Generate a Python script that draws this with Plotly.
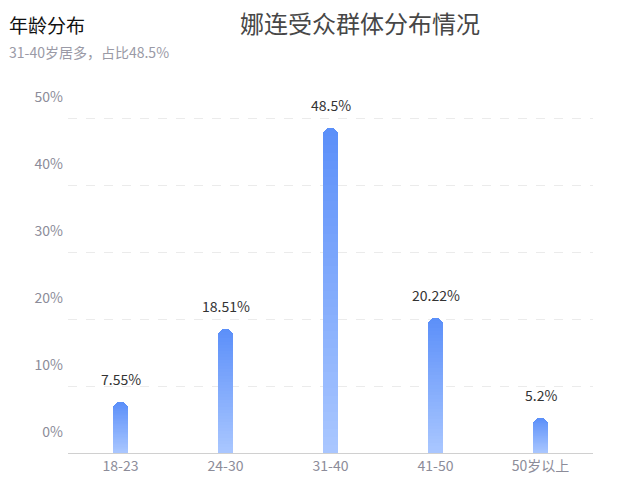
import plotly.graph_objects as go

# data
ages = ["18-23", "24-30", "31-40", "41-50", "50岁以上"]
shares = [7.55, 18.51, 48.5, 20.22, 5.2]
share_labels = ["7.55%", "18.51%", "48.5%", "20.22%", "5.2%"]
y_ticks = [0, 10, 20, 30, 40, 50]
y_tick_text = ["0%", "10%", "20%", "30%", "40%", "50%"]

FONT = "Noto Sans CJK SC"
TOP = (91, 143, 249)
BOTTOM = (170, 199, 255)
LAYERS = 40


def blend(t):
    # t = 0 at the foot of a bar, 1 at its top
    r, g, b = (round(BOTTOM[i] + (TOP[i] - BOTTOM[i]) * t) for i in range(3))
    return f"rgb({r},{g},{b})"


fig = go.Figure()

# overlaid bars, tallest first, each one a bit shorter and lighter,
# so every bar fades from blue at the top to pale at the foot
for k in range(LAYERS):
    frac = (LAYERS - k) / LAYERS
    fig.add_trace(go.Bar(
        x=ages,
        y=[v * frac for v in shares],
        width=0.143,
        marker=dict(color=blend(frac - 0.5 / LAYERS), line=dict(width=0),
                    cornerradius=8),
        hoverinfo="skip",
        showlegend=False,
    ))

for age, v, lab in zip(ages, shares, share_labels):
    fig.add_annotation(x=age, y=v, text=lab, showarrow=False,
                       yanchor="bottom", yshift=11,
                       font=dict(family=FONT, size=14, color="#333333"))

# titles, placed from the top-left corner of the page
fig.add_annotation(xref="paper", yref="paper", x=(360 - 68) / 525, y=1.0,
                   text="娜连受众群体分布情况", showarrow=False,
                   xanchor="center", yanchor="middle", yshift=95,
                   font=dict(family=FONT, size=24, color="#474747"))
fig.add_annotation(xref="paper", yref="paper", x=(7 - 68) / 525, y=1.0,
                   xanchor="left", yanchor="middle", yshift=93, showarrow=False,
                   text="年龄分布", font=dict(family=FONT, size=19, color="#111111"))
fig.add_annotation(xref="paper", yref="paper", x=(7 - 68) / 525, y=1.0,
                   xanchor="left", yanchor="middle", yshift=65, showarrow=False,
                   text="31-40岁居多，占比48.5%",
                   font=dict(family=FONT, size=14, color="#9a9aa6"))

fig.update_layout(
    width=623, height=491,
    margin=dict(l=68, r=30, t=117, b=38),
    barmode="overlay",
    bargap=0,
    plot_bgcolor="white",
    paper_bgcolor="white",
    font=dict(family=FONT),
)

fig.update_xaxes(
    showline=True, linecolor="#d0d0d0", linewidth=1,
    showgrid=False, ticks="",
    tickfont=dict(family=FONT, size=14, color="#8c8c99"),
)
fig.update_yaxes(
    range=[0, 50.2],
    tickvals=y_ticks, ticktext=y_tick_text,
    showgrid=True, gridcolor="#ebebeb", griddash="dash", gridwidth=1,
    zeroline=False, showline=False, ticks="",
    ticklabelshift=-21, ticklabelstandoff=4,
    tickfont=dict(family=FONT, size=14, color="#8c8c99"),
)

# the page body has a default margin; drop it so the figure sits at 0,0
fig.write_html("out.html", config={"displayModeBar": False},
               post_script="document.body.style.margin='0';")
